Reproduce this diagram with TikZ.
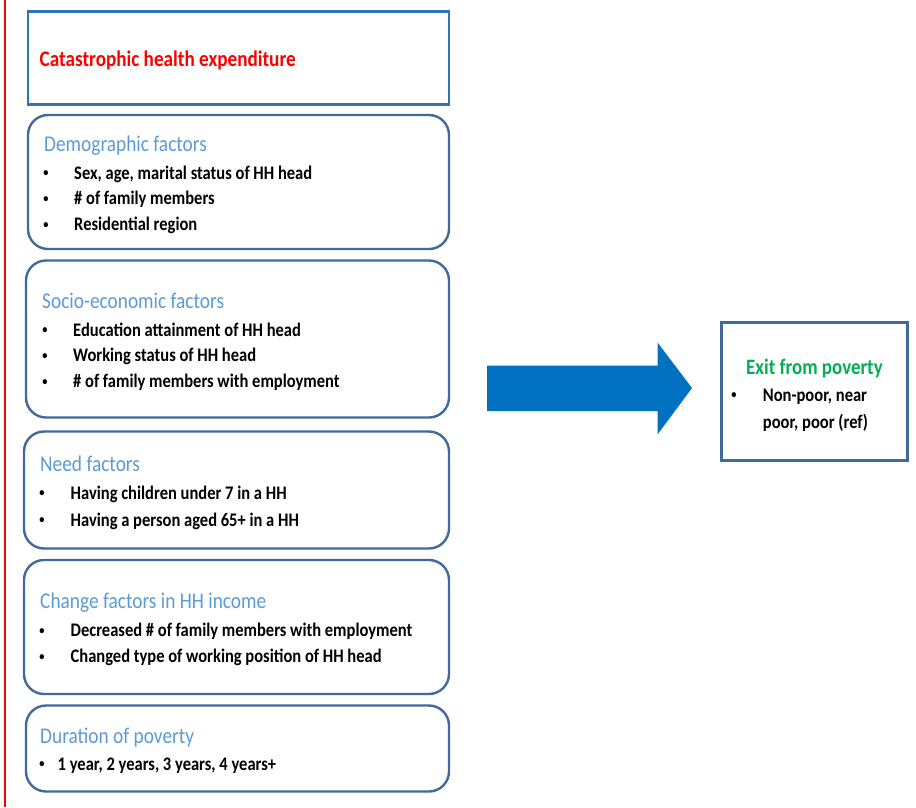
\documentclass[tikz,border=0pt]{standalone}
\usepackage{fontspec}
\setmainfont{Carlito}[FakeStretch=0.86]
\usetikzlibrary{positioning}

\definecolor{frameblue}{RGB}{46,117,182}
\definecolor{boxblue}{RGB}{65,105,155}
\definecolor{titleblue}{RGB}{91,155,213}
\definecolor{arrowblue}{RGB}{0,112,192}
\definecolor{exitgreen}{RGB}{0,176,80}

\tikzset{
  factorbox/.style={draw=boxblue, line width=2.4pt, rounded corners=20pt},
  headline/.style={anchor=base west, inner sep=0, font=\fontsize{22.5}{26}\selectfont, titleblue},
  item/.style={anchor=base west, inner sep=0, font=\fontsize{19.2}{22}\selectfont\bfseries},
  dot/.style={anchor=center, inner sep=0, font=\fontsize{12}{14}\selectfont\bfseries}
}

\begin{document}
\begin{tikzpicture}[x=1pt, y=-1pt]

\useasboundingbox (0,0) rectangle (916,807);

\draw[red, line width=1.6pt] (5,0) -- (5,807);

% outcome-side boxes
\draw[frameblue, line width=2.4pt] (28,11.5) rectangle (449,104.5);
\node[anchor=base west, inner sep=0, red, font=\fontsize{22.3}{26}\selectfont\bfseries] (che) at (39.5,66) {Catastrophic health expenditure};

\draw[factorbox] (28,115) rectangle (449,249);
\node[headline] (demo) at (44,151.7) {Demographic factors};
\foreach \y/\t in {179.3/{Sex, age, marital status of HH head}, 204.8/{\# of family members}, 230.7/{Residential region}}
{
\node[dot] at (46,\y-5.5) {\textbullet};
\node[item] at (74,\y) {\t};
}

\draw[factorbox] (26,260.5) rectangle (449,417.5);
\node[headline] (socio) at (42,308.3) {Socio-economic factors};
\foreach \y/\t in {336/{Education attainment of HH head}, 361.7/{Working status of HH head}, 387.7/{\# of family members with employment}}
{
\node[dot] at (45,\y-5.5) {\textbullet};
\node[item] at (73,\y) {\t};
}

\draw[factorbox] (24,431.5) rectangle (449,548.5);
\node[headline] (need) at (40,471.7) {Need factors};
\foreach \y/\t in {499.3/{Having children under 7 in a HH}, 526/{Having a person aged 65+ in a HH}}
{
\node[dot] at (42,\y-5.5) {\textbullet};
\node[item] at (70.5,\y) {\t};
}

\draw[factorbox] (24,560) rectangle (449,694);
\node[headline] (change) at (40,608.3) {Change factors in HH income};
\foreach \y/\t in {636.7/{Decreased \# of family members with employment}, 662.7/{Changed type of working position of HH head}}
{
\node[dot] at (42,\y-5.5) {\textbullet};
\node[item] at (70.5,\y) {\t};
}

\draw[factorbox] (26,705.5) rectangle (449,791.5);
\node[headline] (duration) at (40,743.3) {Duration of poverty};
\node[dot] at (42,764.5) {\textbullet};
\node[item] at (57.5,770) {1 year, 2 years, 3 years, 4 years+};

% big arrow
\fill[arrowblue] (487,365.5) -- (657.5,365.5) -- (657.5,342.5) -- (692,388)
  -- (657.5,434.5) -- (657.5,411) -- (487,411) -- cycle;

\draw[boxblue, line width=2.4pt] (721.5,322.5) rectangle (907.5,460.5);
\node[anchor=base, inner sep=0, exitgreen, font=\fontsize{22}{26}\selectfont\bfseries] (exit) at (814.5,374) {Exit from poverty};
\node[dot] at (734,396) {\textbullet};
\node[item, anchor=base] at (815,401.7) {Non-poor, near};
\node[item, anchor=base] at (815.5,428) {poor, poor (ref)};

\end{tikzpicture}
\end{document}
